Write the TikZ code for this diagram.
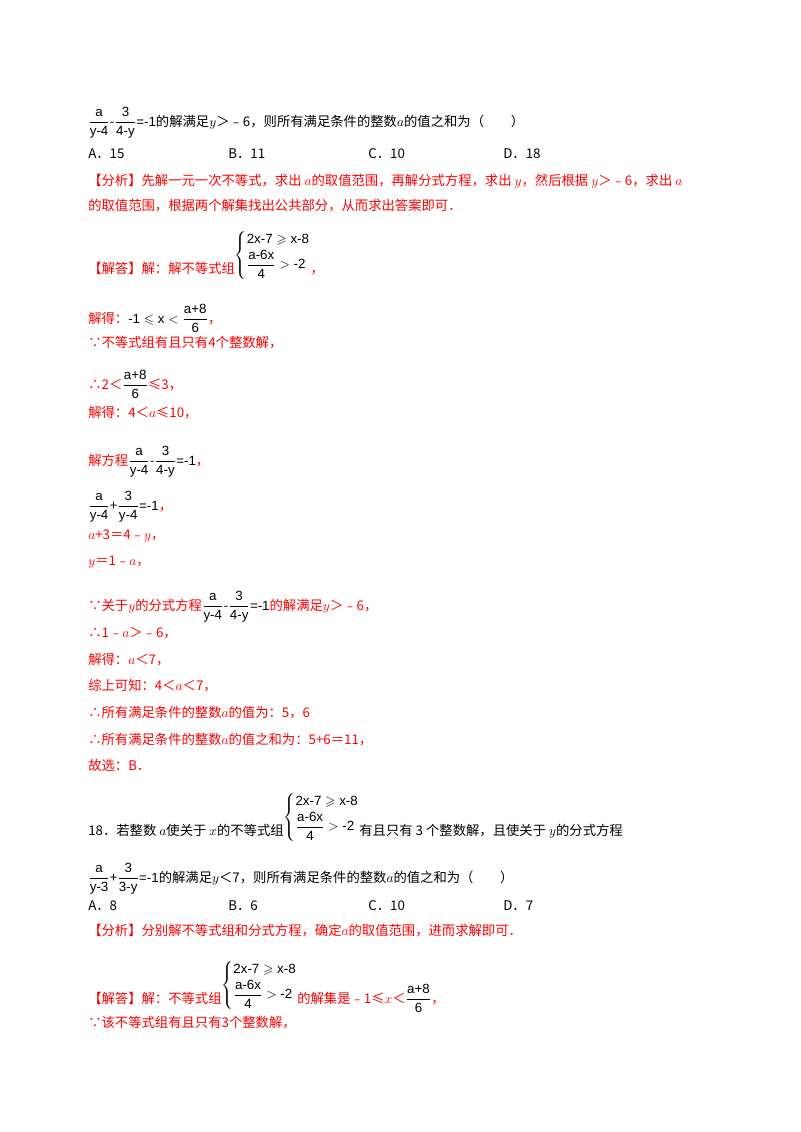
\documentclass[tikz,border=0pt]{standalone}
\usepackage{amsmath,amssymb}
\usepackage{fontspec}
\setmainfont{Noto Sans CJK SC}
\newfontfamily\mfont{Liberation Sans}
\newcommand{\fr}[2]{$\displaystyle\frac{\text{\mfont #1}}{\text{\mfont #2}}$}
\newcommand{\va}{$a$}
\newcommand{\vy}{$y$}
\newcommand{\vx}{$x$}
\newcommand{\sys}{\raisebox{11pt}{$\left\{\begin{array}{@{}l@{}}\text{\mfont 2x-7}\geqslant\text{\mfont x-8}\\[2pt] \dfrac{\text{\mfont a-6x}}{\text{\mfont 4}}>\text{\mfont -2}\end{array}\right.$}}
\begin{document}
\begin{tikzpicture}[x=0.75pt,y=-0.75pt,
  tx/.style={anchor=base west,inner sep=0pt,font=\fontsize{10}{12}\selectfont},
  rd/.style={tx,text=red}]
\useasboundingbox (0,0) rectangle (800,1132);
\fill[white] (0,0) rectangle (800,1132);
\node[tx] (l1) at (88,126) {\fr{a}{y-4}-\fr{3}{4-y}{\mfont =-1}的解满足\vy＞﹣6，则所有满足条件的整数\va 的值之和为（　　）};
\node[tx] (a1) at (88,158) {A．15};
\node[tx] (b1) at (228,158) {B．11};
\node[tx] (c1) at (368,158) {C．10};
\node[tx] (d1) at (503,158) {D．18};
\node[rd] (f1) at (88,185) {【分析】先解一元一次不等式，求出 \va 的取值范围，再解分式方程，求出 \vy，然后根据 \vy＞﹣6，求出 \va};
\node[rd] (f2) at (88,210) {的取值范围，根据两个解集找出公共部分，从而求出答案即可．};
\node[rd] (j1) at (88,273) {【解答】解：解不等式组\textcolor{black}{\sys}，};
\node[rd] (j2) at (88,323) {解得：\textcolor{black}{$\text{\mfont -1}\leqslant\text{\mfont x}<\dfrac{\text{\mfont a+8}}{\text{\mfont 6}}$}，};
\node[rd] (j3) at (88,347) {∵不等式组有且只有4个整数解，};
\node[rd] (j4) at (88,389) {∴2＜\textcolor{black}{\fr{a+8}{6}}≤3，};
\node[rd] (j5) at (88,417) {解得：4＜\va≤10，};
\node[rd] (j6) at (88,465) {解方程\textcolor{black}{\fr{a}{y-4}-\fr{3}{4-y}{\mfont =-1}}，};
\node[rd] (j7) at (88,510) {\textcolor{black}{\fr{a}{y-4}+\fr{3}{y-4}{\mfont =-1}}，};
\node[rd] (j8) at (88,539) {\va+3＝4﹣\vy，};
\node[rd] (j9) at (88,565) {\vy＝1﹣\va，};
\node[rd] (j10) at (88,610) {∵关于\vy 的分式方程\textcolor{black}{\fr{a}{y-4}-\fr{3}{4-y}{\mfont =-1}}的解满足\vy＞﹣6，};
\node[rd] (j11) at (88,637) {∴1﹣\va＞﹣6，};
\node[rd] (j12) at (88,664) {解得：\va＜7，};
\node[rd] (j13) at (88,690) {综上可知：4＜\va＜7，};
\node[rd] (j14) at (88,717) {∴所有满足条件的整数\va 的值为：5，6};
\node[rd] (j15) at (88,744) {∴所有满足条件的整数\va 的值之和为：5+6＝11，};
\node[rd] (j16) at (88,770) {故选：\textit{B}．};
\node[tx] (q18) at (88,835) {18．若整数 \va 使关于 \vx 的不等式组\sys 有且只有 3 个整数解，且使关于 \vy 的分式方程};
\node[tx] (q2) at (88,882) {\fr{a}{y-3}+\fr{3}{3-y}{\mfont =-1}的解满足\vy＜7，则所有满足条件的整数\va 的值之和为（　　）};
\node[tx] (a2) at (88,910) {A．8};
\node[tx] (b2) at (228,910) {B．6};
\node[tx] (c2) at (368,910) {C．10};
\node[tx] (d2) at (503,910) {D．7};
\node[rd] (g1) at (88,935) {【分析】分别解不等式组和分式方程，确定\va 的取值范围，进而求解即可．};
\node[rd] (g2) at (88,1003) {【解答】解：不等式组\textcolor{black}{\sys}的解集是﹣1≤\vx＜\textcolor{black}{\fr{a+8}{6}}，};
\node[rd] (g3) at (88,1027) {∵该不等式组有且只有3个整数解，};
\end{tikzpicture}
\end{document}
